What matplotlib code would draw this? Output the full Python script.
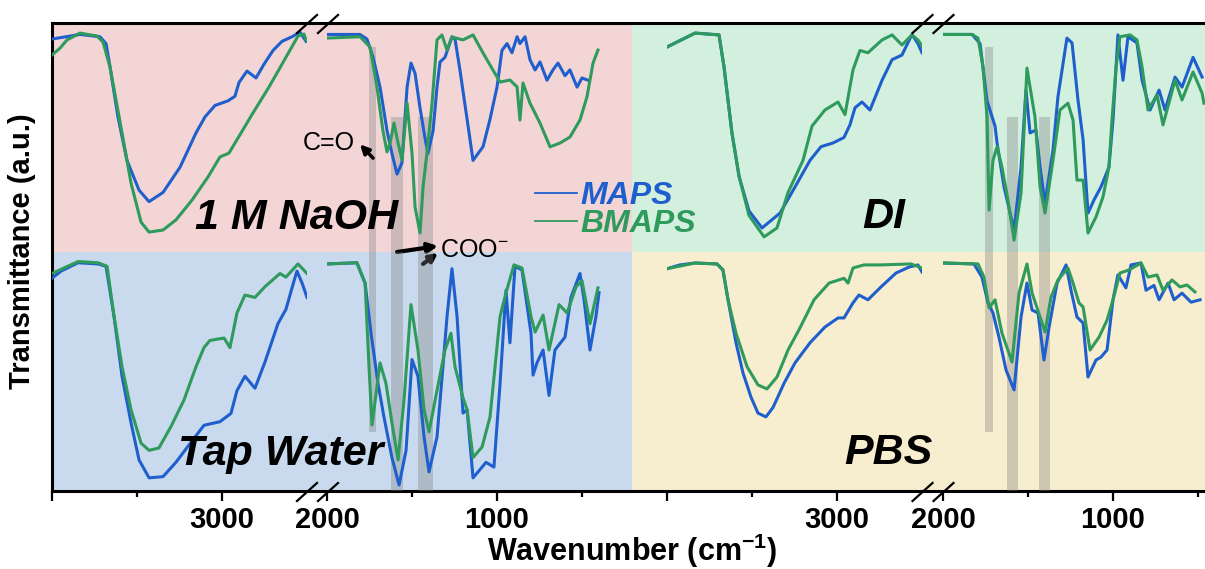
import matplotlib
matplotlib.use('Agg')
import matplotlib.pyplot as plt
from matplotlib.lines import Line2D
from matplotlib.patches import Rectangle
import numpy as np

plt.rcParams['font.family'] = ['Liberation Sans', 'DejaVu Sans']
plt.rcParams['mathtext.fontset'] = 'custom'
plt.rcParams['mathtext.rm'] = 'Liberation Sans'
plt.rcParams['mathtext.bf'] = 'Liberation Sans:bold'

# ---- spectra (wavenumber in cm-1, transmittance in a.u., each half 0-100) ----
naoh_maps_w = [4000, 3835, 3718, 3682, 3659, 3612, 3559, 3488, 3429, 3347, 3247, 3153, 3100, 3041, 2965,
               2924, 2900, 2853, 2800, 2753, 2700, 2647, 2588, 2541, 2506,
               2000, 1806, 1765, 1729, 1688, 1647, 1618, 1588, 1559, 1529, 1506, 1482, 1453, 1424, 1406,
               1376, 1353, 1335, 1306, 1265, 1247, 1218, 1176, 1141, 1082, 1041, 1000, 971, 941, 912, 882,
               865, 835, 806, 776, 747, 706, 671, 641, 600, 571, 529, 500, 465]
naoh_maps_t = [93, 95, 94, 91, 81, 59, 40, 27, 22, 26, 37, 52, 59, 64, 66, 68, 74, 79, 76, 82, 88, 92, 94, 96, 92,
               95, 95, 93, 85, 72, 53, 43, 34, 39, 72, 82.5, 78, 63, 50, 43, 53, 72, 83, 85, 94, 93, 79.5, 58,
               40, 46, 58, 72, 88, 91, 87, 94, 91, 94, 84, 79.5, 83, 75, 79.5, 82.5, 77, 79.5, 72, 76, 75]
naoh_bmaps_w = [4000, 3953, 3912, 3835, 3735, 3700, 3659, 3588, 3535, 3476, 3429, 3347, 3271, 3176, 3082,
                3012, 2959, 2888, 2818, 2724, 2624, 2553, 2518, 2506,
                2000, 1806, 1747, 1706, 1671, 1647, 1629, 1606, 1582, 1559, 1529, 1500, 1482, 1453, 1435,
                1412, 1382, 1353, 1324, 1294, 1265, 1200, 1141, 1082, 1024, 982, 924, 882, 865, 847, 806,
                747, 688, 629, 571, 512, 471, 435, 406]
naoh_bmaps_t = [86, 89, 92.6, 95.6, 94.3, 91.7, 80.8, 52, 30, 13, 8.7, 9.6, 14, 22.7, 32.8, 41.5, 43.2, 52,
                60.7, 72, 85, 94.3, 95.2, 92.6,
                93.4, 94, 89.5, 72, 53, 43.7, 47.6, 56.3, 47.6, 40.2, 65, 43.2, 19.7, 8.3, 28.4, 43.2, 65,
                92.6, 94.8, 88.2, 93.9, 92.6, 94.8, 86.9, 79.5, 74.2, 75.1, 72.1, 57.6, 73.8, 65, 56.3,
                45.9, 47.6, 50.2, 57.6, 67.7, 82.5, 88.2]

tap_maps_w = [4000, 3947, 3847, 3729, 3682, 3635, 3588, 3535, 3488, 3429, 3347, 3271, 3176, 3106, 3012,
              2947, 2912, 2865, 2806, 2747, 2671, 2624, 2576, 2559, 2529, 2500,
              2000, 1824, 1776, 1741, 1700, 1665, 1618, 1576, 1535, 1500, 1465, 1429, 1400, 1353, 1318,
              1294, 1265, 1235, 1200, 1176, 1141, 1088, 1065, 1018, 982, 947, 924, 894, 853, 800, 788,
              765, 729, 694, 659, 600, 565, 512, 488, 453, 418, 400]
tap_maps_t = [89, 92, 95.5, 95, 94, 73, 48, 28.5, 13, 5.5, 6, 12, 21, 27.5, 29, 32.5, 42, 48, 43, 54, 70,
              76, 88, 92, 87, 81,
              95, 95.5, 87, 66, 45, 31, 14, 2.5, 17, 55, 48, 22.6, 8, 22.6, 52, 73, 93, 73, 32.6, 34,
              5.5, 10, 12, 10, 45, 84, 62, 94, 92.5, 66, 48.5, 53.6, 59, 40, 59, 64.4, 81, 91, 80, 59,
              73, 83]
tap_bmaps_w = [4000, 3847, 3729, 3676, 3635, 3588, 3535, 3476, 3429, 3371, 3300, 3224, 3153, 3106, 3071,
               2988, 2953, 2912, 2865, 2806, 2747, 2659, 2624, 2553, 2500,
               2000, 1824, 1776, 1753, 1735, 1688, 1653, 1618, 1582, 1547, 1506, 1465, 1429, 1400, 1353,
               1306, 1271, 1247, 1200, 1176, 1141, 1088, 1041, 982, 947, 900, 853, 800, 776, 729, 694,
               635, 588, 535, 500, 453, 406]
tap_bmaps_t = [91, 96, 95.5, 94, 73, 52, 34, 20, 17, 18, 27, 38, 52, 60, 63, 64, 60, 74.5, 82, 81, 85.5,
               91, 89.5, 95, 91,
               95, 95.5, 87, 52, 27.6, 53.6, 45, 28.5, 13, 38, 78, 59, 34, 24.7, 42, 59, 66, 52, 39, 34,
               14, 18.4, 31, 73, 83, 94.6, 93.3, 73, 66.5, 73.6, 59, 78, 74.5, 85.4, 88, 70, 85]

di_maps_w = [4000, 3835, 3694, 3665, 3618, 3576, 3518, 3441, 3335, 3247, 3159, 3094, 3024, 2959, 2924,
             2894, 2853, 2806, 2735, 2676, 2618, 2559, 2524, 2500,
             2000, 1829, 1782, 1741, 1694, 1682, 1641, 1582, 1541, 1512, 1488, 1453, 1429, 1400, 1353,
             1324, 1271, 1241, 1206, 1176, 1147, 1112, 1071, 1024, 1000, 971, 941, 912, 859, 829, 782,
             729, 694, 635, 594, 529, 476]
di_maps_t = [89.5, 95.6, 94.8, 81, 52, 33, 18, 10.5, 17, 28.4, 40, 46, 47.6, 50, 55.5, 63, 65.5, 62, 75,
             84, 86, 95, 91, 87,
             95, 95, 91, 66, 55, 47.6, 28.4, 9.6, 37, 70.7, 52, 53.3, 37, 21.4, 44.5, 67.7, 93.4, 91.3,
             66.4, 49, 17, 22.7, 28.4, 37, 57.6, 94.8, 75, 94, 91.3, 75, 62, 70.7, 62, 76.4, 72, 85, 76.4]
di_bmaps_w = [4000, 3835, 3694, 3665, 3618, 3576, 3518, 3429, 3353, 3288, 3200, 3147, 3071, 2994, 2953,
              2906, 2865, 2818, 2735, 2676, 2618, 2559, 2524, 2500,
              2000, 1829, 1794, 1765, 1741, 1729, 1706, 1682, 1653, 1618, 1582, 1541, 1506, 1488, 1459,
              1429, 1400, 1353, 1312, 1265, 1235, 1212, 1176, 1147, 1100, 1059, 1024, 1006, 982, 959,
              900, 859, 829, 794, 741, 706, 635, 594, 529, 476, 465]
di_bmaps_t = [89.5, 95.6, 94.8, 81, 52, 33, 16, 6.6, 10.5, 26, 40, 55, 62, 65.5, 60, 79.5, 88, 87, 92.6,
              94.8, 90.4, 94.8, 92.6, 90,
              95, 95, 93.4, 81, 59, 18.3, 40, 46, 37, 22.7, 5.2, 25.8, 80.3, 72, 59, 28.4, 17, 40, 62,
              65, 57.6, 31.4, 31.4, 8.3, 15.3, 24, 37, 57.6, 80.8, 94, 94.8, 92.6, 80.8, 62, 68.6, 55.5,
              75, 66.4, 78.6, 69.4, 65]

pbs_maps_w = [4000, 3924, 3835, 3706, 3671, 3641, 3594, 3553, 3506, 3465, 3418, 3376, 3312, 3247, 3159,
              3071, 2994, 2959, 2906, 2871, 2818, 2741, 2653, 2576, 2524, 2500,
              2000, 1818, 1771, 1735, 1706, 1671, 1629, 1582, 1541, 1506, 1476, 1441, 1406, 1376, 1329,
              1276, 1247, 1212, 1176, 1147, 1100, 1071, 1035, 1000, 971, 924, 894, 835, 806, 759, 729,
              676, 641, 594, 541, 488, 459]
pbs_maps_t = [93, 94.6, 95.4, 95, 92.5, 80, 62, 49.4, 39.3, 32.6, 31, 35, 45, 53.6, 62, 68.6, 72.4, 72.4,
              78.7, 82, 80, 85.4, 91.2, 93.7, 94.6, 91.6,
              95.4, 95, 89.5, 78.7, 74.5, 64.4, 50.6, 42.3, 72.8, 87, 75.7, 74.5, 54.8, 68.6, 87, 94.6,
              84, 72.8, 70.3, 47.7, 54.8, 56, 59, 80, 90.4, 85, 94.6, 95.4, 84, 86, 80, 87, 80, 82.8, 79,
              80, 81]
pbs_bmaps_w = [4000, 3835, 3706, 3671, 3641, 3594, 3529, 3465, 3412, 3353, 3288, 3224, 3135, 3047, 2959,
               2935, 2906, 2841, 2741, 2565, 2500,
               2000, 1794, 1759, 1729, 1694, 1653, 1594, 1553, 1506, 1476, 1429, 1400, 1365, 1324, 1265,
               1235, 1200, 1176, 1135, 1082, 1035, 1000, 959, 906, 835, 794, 741, 706, 653, 606, 565,
               518, 459]
pbs_bmaps_t = [93, 95.4, 95, 92.5, 80, 66, 52, 44.4, 42.7, 47.7, 59, 67.4, 80, 87, 89, 87, 93.3, 94.6,
               94.6, 95, 93.3,
               95.4, 95, 89.5, 76.6, 80, 66, 54, 82.8, 95, 82.8, 72.8, 66.5, 81, 88.3, 93.3, 87, 78.7, 77,
               59, 64.4, 71.5, 80, 91.2, 92.5, 95.4, 89.5, 90.4, 84, 88.3, 85.4, 86.2, 83.3, 85]

# highlighted bands (cm-1): C=O, then the two COO- regions
bands_left = [(1753, 1712), (1624, 1553), (1465, 1376)]
bands_right = [(1753, 1706), (1624, 1559), (1435, 1370)]

conditions = ['1 M NaOH', 'Tap Water', 'DI', 'PBS']
series_names = ['MAPS', 'BMAPS']

BLUE = '#1f5fcd'
GREEN = '#2e9a5c'
BG = ['#f3d5d5', '#c9daee', '#d3f0df', '#f7edcf']

# ---- layout (pixels, origin top-left) ----
W, H = 1205, 569
TOP, MID, BOT = 23, 252, 491
LEFT, SPLIT, RIGHT = 52, 632, 1205
SCALE = 0.17  # px per cm-1

fig = plt.figure(figsize=(W / 100, H / 100), dpi=100)


def px_axes(x0, y0, x1, y1):
    return fig.add_axes([x0 / W, 1 - y1 / H, (x1 - x0) / W, (y1 - y0) / H])


frame = px_axes(LEFT, TOP, RIGHT, BOT)
frame.set_xlim(LEFT, RIGHT)
frame.set_ylim(BOT, TOP)
for (x0, x1, y0, y1), c in zip([(LEFT, SPLIT, TOP, MID), (LEFT, SPLIT, MID, BOT),
                                (SPLIT, RIGHT, TOP, MID), (SPLIT, RIGHT, MID, BOT)], BG):
    frame.add_patch(Rectangle((x0, y0), x1 - x0, y1 - y0, facecolor=c, lw=0, zorder=0))
frame.set_xticks([])
frame.set_yticks([])
frame.spines['right'].set_visible(False)
for s in ('top', 'left', 'bottom'):
    frame.spines[s].set_linewidth(2.2)
    frame.spines[s].set_zorder(5)

panels = [
    dict(x0=[52, 327], ranges=[(4000, 2500), (2000, 200)], bands=bands_left,
         top=(naoh_maps_w, naoh_maps_t, naoh_bmaps_w, naoh_bmaps_t),
         bottom=(tap_maps_w, tap_maps_t, tap_bmaps_w, tap_bmaps_t)),
    dict(x0=[667, 943], ranges=[(4000, 2500), (2000, 460)], bands=bands_right,
         top=(di_maps_w, di_maps_t, di_bmaps_w, di_bmaps_t),
         bottom=(pbs_maps_w, pbs_maps_t, pbs_bmaps_w, pbs_bmaps_t)),
]
# vertical reach of the bands inside each half (fraction of half height)
band_top_reach = [0.895, 0.59, 0.59]
band_bottom_from = [0.247, 0.0, 0.0]

axes = {}
for pi, p in enumerate(panels):
    seg_edges = []
    for k, (x0, (hi, lo)) in enumerate(zip(p['x0'], p['ranges'])):
        x1 = x0 + (hi - lo) * SCALE
        seg_edges.append((x0, x1))
        for half, (y0, y1) in (('top', (TOP, MID)), ('bottom', (MID, BOT))):
            ax = px_axes(x0, y0, x1, y1)
            axes[(pi, k, half)] = ax
            ax.patch.set_visible(False)
            for s in ax.spines.values():
                s.set_visible(False)
            ax.set_xlim(hi, lo)
            ax.set_ylim(0, 100)
            ax.set_yticks([])
            mw, mt, bw, bt = p[half]
            for w, t, c in ((mw, mt, BLUE), (bw, bt, GREEN)):
                w = np.asarray(w, float)
                t = np.asarray(t, float)
                m = (w <= hi) & (w >= lo)
                ax.plot(w[m], t[m], color=c, lw=2.2, zorder=3, solid_joinstyle='round')
            if k == 1:
                for bi, (bhi, blo) in enumerate(p['bands']):
                    if half == 'top':
                        ax.axvspan(blo, bhi, ymin=0, ymax=band_top_reach[bi],
                                   color='#7f7f7f', alpha=0.35, lw=0, zorder=1)
                    else:
                        ax.axvspan(blo, bhi, ymin=band_bottom_from[bi], ymax=1,
                                   color='#7f7f7f', alpha=0.35, lw=0, zorder=1)
            if half == 'bottom':
                if k == 0:
                    ax.set_xticks([4000, 3000], ['', '3000'], fontsize=21, fontweight='bold')
                    ax.set_xticks([3500], minor=True)
                else:
                    ax.set_xticks([2000, 1000], ['2000', '1000'], fontsize=21, fontweight='bold')
                    ax.set_xticks([1500, 500], minor=True)
                ax.tick_params(axis='x', which='major', length=7, width=1.6, pad=4)
                ax.tick_params(axis='x', which='minor', length=4.5, width=1.6)
            else:
                ax.set_xticks([])
    # break marks
    cx = (seg_edges[0][1] + seg_edges[1][0]) / 2
    for yy in (TOP + 1, BOT + 1):
        for dx in (-10, 11):
            fig.add_artist(Line2D([(cx + dx - 10) / W, (cx + dx + 10) / W],
                                  [1 - (yy + 9) / H, 1 - (yy - 9) / H],
                                  transform=fig.transFigure, color='k', lw=1.6, zorder=10))

# condition labels
for txt, (x, y) in zip(conditions, [(297, 229), (281, 465), (884, 228), (888, 464)]):
    fig.text(x / W, 1 - y / H, txt, ha='center', va='baseline', fontsize=31,
             fontweight='bold', fontstyle='italic', zorder=10)

# annotations on the 1 M NaOH fingerprint segment
ax = axes[(0, 1, 'top')]
ax.text(1988, 47.6, 'C=O', ha='center', va='center', fontsize=18, zorder=6, clip_on=False)
ax.annotate('', xy=(1806, 47), xytext=(1729, 41), annotation_clip=False, zorder=6,
            arrowprops=dict(arrowstyle='-|>', color='k', lw=2.5, mutation_scale=13,
                            shrinkA=0, shrinkB=0))
ax.text(1335, 0.9, r'COO$^{-}$', ha='left', va='center', fontsize=18, zorder=6, clip_on=False)
ax.annotate('', xy=(1347, 2.6), xytext=(1588, 0), annotation_clip=False, zorder=6,
            arrowprops=dict(arrowstyle='-|>', color='k', lw=3, mutation_scale=14,
                            shrinkA=0, shrinkB=0))
ax.annotate('', xy=(1347, -0.4), xytext=(1435, -5.2), annotation_clip=False, zorder=6,
            arrowprops=dict(arrowstyle='-|>', color='k', lw=3, mutation_scale=12,
                            shrinkA=0, shrinkB=0))

# legend
handles = [Line2D([], [], color=BLUE, lw=1.3), Line2D([], [], color=GREEN, lw=1.3)]
leg = fig.legend(handles, series_names, loc='upper left', bbox_to_anchor=(535 / W, 1 - 181 / H),
                 frameon=False, prop=dict(weight='bold', style='italic', size=23),
                 handlelength=1.3, handletextpad=0.12, labelspacing=-0.05, borderpad=0,
                 borderaxespad=0, labelcolor='linecolor')

fig.text(22 / W, 1 - 251 / H, 'Transmittance (a.u.)', rotation=90, ha='center', va='center',
         fontsize=21, fontweight='bold')
fig.text(632 / W, 1 - 551 / H, r'Wavenumber (cm$^{\mathbf{-1}}$)', ha='center', va='center',
         fontsize=22, fontweight='bold')

fig.savefig('out.png', dpi=100)
